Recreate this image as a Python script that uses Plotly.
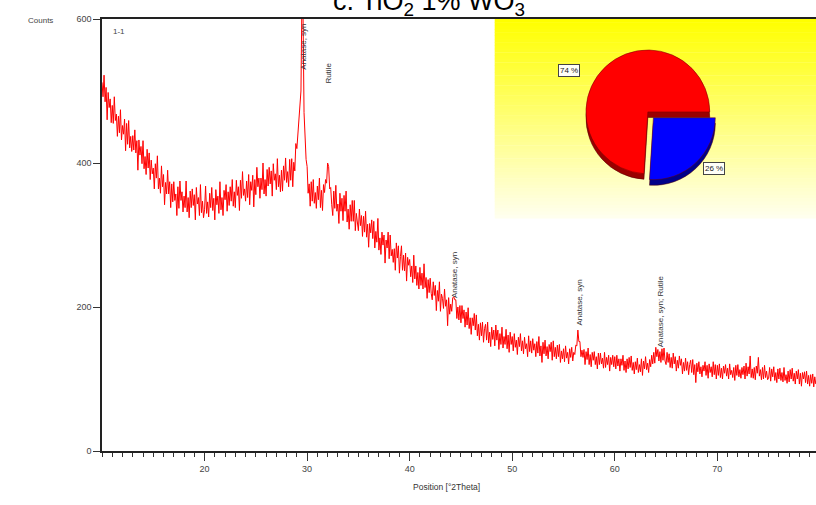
import plotly.graph_objects as go

# ---------------- data ----------------
two_theta_start = 10.0
two_theta_step = 0.1
counts = [
    512, 492, 522, 485, 505, 460, 498, 477, 489, 456, 480, 455, 492, 459, 468, 437, 465, 442, 474, 432, 452, 440, 461, 417, 455,
    426, 459, 421, 437, 416, 438, 418, 446, 414, 431, 390, 432, 411, 423, 399, 431, 392, 409, 384, 419, 393, 414, 377, 404, 385,
    393, 364, 399, 379, 410, 364, 379, 358, 396, 367, 384, 342, 373, 357, 390, 357, 374, 338, 371, 346, 374, 348, 357, 327, 367,
    337, 375, 348, 360, 332, 354, 338, 375, 332, 352, 324, 361, 338, 364, 341, 356, 321, 366, 343, 352, 327, 370, 331, 347, 324,
    335, 368, 330, 346, 325, 358, 338, 366, 334, 351, 321, 363, 342, 354, 330, 374, 335, 352, 327, 362, 349, 370, 333, 360, 341,
    367, 347, 377, 340, 360, 338, 376, 355, 367, 334, 376, 351, 388, 355, 364, 347, 375, 352, 384, 342, 374, 362, 383, 339, 377,
    356, 394, 367, 379, 351, 379, 363, 400, 357, 377, 354, 391, 368, 394, 371, 389, 354, 399, 376, 385, 363, 406, 367, 383, 360,
    390, 361, 396, 376, 407, 373, 388, 367, 405, 376, 406, 367, 401, 389, 427, 420, 440, 452, 470, 500, 640, 610, 470, 430, 405,
    395, 358, 371, 340, 374, 347, 377, 344, 359, 337, 368, 349, 379, 338, 362, 334, 370, 359, 377, 372, 400, 395, 364, 366, 342,
    327, 361, 337, 369, 333, 343, 316, 358, 333, 351, 320, 355, 333, 361, 318, 336, 308, 342, 319, 348, 319, 348, 306, 330, 312,
    306, 336, 313, 327, 298, 326, 304, 333, 297, 315, 283, 316, 303, 321, 295, 319, 282, 305, 290, 323, 279, 296, 273, 304, 286,
    300, 261, 293, 282, 304, 267, 300, 271, 280, 262, 281, 251, 289, 268, 285, 247, 270, 285, 251, 272, 250, 275, 236, 269, 258,
    266, 242, 257, 234, 272, 239, 257, 230, 248, 225, 255, 230, 247, 225, 260, 227, 241, 212, 238, 220, 240, 219, 210, 235, 216,
    230, 195, 223, 208, 235, 194, 218, 212, 198, 225, 201, 210, 174, 213, 190, 204, 194, 213, 214, 210, 210, 184, 200, 182, 202,
    178, 202, 184, 196, 172, 193, 175, 199, 170, 185, 162, 185, 174, 191, 168, 189, 160, 176, 154, 178, 160, 179, 151, 170, 176,
    154, 179, 150, 165, 145, 172, 155, 168, 146, 175, 154, 168, 141, 163, 148, 172, 143, 159, 148, 169, 142, 161, 137, 165, 148,
    159, 139, 163, 144, 154, 134, 158, 145, 163, 139, 153, 135, 158, 142, 149, 131, 160, 138, 153, 136, 156, 140, 149, 131, 152,
    136, 159, 132, 146, 123, 151, 135, 154, 132, 145, 128, 148, 138, 151, 126, 153, 131, 144, 128, 147, 131, 148, 123, 139, 128,
    142, 124, 146, 129, 137, 121, 142, 130, 144, 125, 137, 134, 147, 146, 168, 152, 152, 131, 140, 130, 141, 120, 138, 127, 143,
    120, 134, 117, 137, 126, 138, 120, 131, 114, 136, 120, 136, 121, 129, 115, 137, 116, 130, 120, 133, 111, 130, 120, 133, 117,
    131, 114, 133, 118, 128, 111, 128, 119, 133, 112, 125, 109, 128, 114, 130, 116, 132, 112, 123, 107, 124, 113, 129, 109, 120,
    110, 128, 105, 125, 114, 131, 113, 122, 109, 127, 117, 133, 121, 137, 122, 144, 131, 141, 125, 138, 123, 142, 126, 143, 125,
    120, 137, 123, 135, 116, 130, 115, 136, 121, 131, 111, 126, 115, 132, 119, 128, 107, 123, 111, 129, 112, 124, 106, 120, 126,
    109, 127, 106, 120, 95, 122, 110, 124, 107, 117, 103, 119, 111, 124, 105, 119, 101, 121, 109, 117, 103, 124, 106, 120, 100,
    119, 105, 121, 102, 115, 100, 118, 108, 120, 104, 115, 100, 121, 106, 112, 102, 116, 98, 119, 105, 120, 103, 113, 101, 116,
    106, 118, 100, 122, 104, 117, 107, 132, 102, 114, 101, 116, 99, 118, 108, 130, 104, 113, 99, 116, 100, 119, 102, 111, 99,
    101, 116, 97, 114, 103, 117, 98, 109, 95, 114, 100, 115, 98, 109, 96, 116, 98, 106, 94, 111, 96, 113, 100, 115, 97,
    108, 93, 111, 100, 113, 93, 108, 90, 109, 100, 110, 95, 111, 93, 105, 90, 106, 94, 107, 89, 103, 93,
]
two_theta = [round(two_theta_start + i * two_theta_step, 2) for i in range(len(counts))]

peak_labels = ["Anatase, syn", "Rutile", "Anatase, syn", "Anatase, syn", "Anatase, syn; Rutile"]
peak_pos = [29.56, 32.0, 44.4, 56.6, 64.4]
peak_label_y = [561, 525, 244, 206, 194]

x_tick_vals = [20, 30, 40, 50, 60, 70]
y_tick_vals = [0, 200, 400, 600]

phase_names = ["Phase B", "Phase A"]
phase_pct = [26, 74]
phase_colors = ["#0000ff", "#ff0000"]
phase_shadow = ["#00008a", "#9a0000"]

title_text = "c. TiO<sub>2</sub> 1% WO<sub>3</sub>"

# ---------------- figure ----------------
FONT = "Liberation Sans, Arial, sans-serif"
fig = go.Figure()

# yellow gradient panel (strips)
n_strips = 60
y0p, y1p = 0.539, 1.0
for i in range(n_strips):
    t = i / (n_strips - 1)
    b = int(0 + 238 * t)
    ya = y1p - (y1p - y0p) * i / n_strips
    yb = y1p - (y1p - y0p) * (i + 1) / n_strips
    fig.add_shape(type="rect", xref="paper", yref="paper", x0=0.550, x1=1.0,
                  y0=yb - 0.001, y1=ya, fillcolor=f"rgb(255,255,{b})",
                  line=dict(width=0), layer="below")

fig.add_trace(go.Scatter(x=two_theta, y=counts, mode="lines",
                         line=dict(color="#ff0000", width=1), showlegend=False,
                         hoverinfo="skip"))

# pie shadow (3D rim) and pie
dom_x = [0.666, 0.863]
dom_y = [0.623, 0.947]
shift = 0.013
fig.add_trace(go.Pie(values=phase_pct, labels=phase_names, sort=False, direction="clockwise",
                     rotation=90, pull=[0.13, 0], textinfo="none", showlegend=False,
                     marker=dict(colors=phase_shadow, line=dict(color="#500000", width=0.5)),
                     domain=dict(x=dom_x, y=[dom_y[0] - shift, dom_y[1] - shift]),
                     hoverinfo="skip"))
fig.add_trace(go.Pie(values=phase_pct, labels=phase_names, sort=False, direction="clockwise",
                     rotation=90, pull=[0.13, 0], textinfo="none", showlegend=False,
                     marker=dict(colors=phase_colors, line=dict(color="#700000", width=0.5)),
                     domain=dict(x=dom_x, y=dom_y), hoverinfo="skip"))

annotations = []
for lab, px, py in zip(peak_labels, peak_pos, peak_label_y):
    annotations.append(dict(x=px, y=py, xref="x", yref="y", text=lab, showarrow=False,
                            textangle=-90, font=dict(family=FONT, size=8, color="#333333"),
                            xanchor="center", yanchor="middle"))

annotations += [
    dict(x=0.669, y=0.896, xref="paper", yref="paper", text=f"{phase_pct[1]} %", showarrow=False,
         font=dict(family=FONT, size=8, color="#222"), bgcolor="#fffff8", bordercolor="#444",
         borderwidth=1, borderpad=1),
    dict(x=0.873, y=0.669, xref="paper", yref="paper", text=f"{phase_pct[0]} %", showarrow=False,
         font=dict(family=FONT, size=8, color="#222"), bgcolor="#fffff8", bordercolor="#444",
         borderwidth=1, borderpad=1),
    dict(x=-0.106, y=1.012, xref="paper", yref="paper", text="Counts", showarrow=False,
         font=dict(family=FONT, size=8, color="#444")),
    dict(x=0.0126, y=0.986, xref="paper", yref="paper", text="1-1", showarrow=False,
         font=dict(family=FONT, size=8, color="#444")),
    dict(x=0.482, y=-0.0995, xref="paper", yref="paper", text="Position [°2Theta]", showarrow=False,
         font=dict(family=FONT, size=8.5, color="#333")),
    dict(x=0.458, y=1.038, xref="paper", yref="paper", text=title_text, showarrow=False,
         font=dict(family=FONT, size=27, color="#000"), yanchor="middle"),
]

fig.update_layout(
    width=816, height=505,
    margin=dict(l=102, r=0, t=19, b=54),
    paper_bgcolor="white", plot_bgcolor="white",
    showlegend=False,
    annotations=annotations,
    xaxis=dict(range=[10, 79.62], tickvals=x_tick_vals, ticks="outside", ticklen=8,
               tickcolor="#333", tickwidth=1, showline=True, linecolor="#222", linewidth=1.5,
               mirror=True, showgrid=False, zeroline=False,
               tickfont=dict(family=FONT, size=9, color="#444"),
               minor=dict(dtick=1, tick0=0, ticks="outside", ticklen=4, tickcolor="#333", showgrid=False)),
    yaxis=dict(range=[0, 600], tickvals=y_tick_vals, ticks="outside", ticklen=7,
               tickcolor="#333", showline=True, linecolor="#222", linewidth=1.5,
               showgrid=False, zeroline=False,
               tickfont=dict(family=FONT, size=9, color="#444")),
)

fig.write_html("out.html", config={"displayModeBar": False},
               post_script="document.body.style.margin='0';document.body.style.overflow='hidden';")
